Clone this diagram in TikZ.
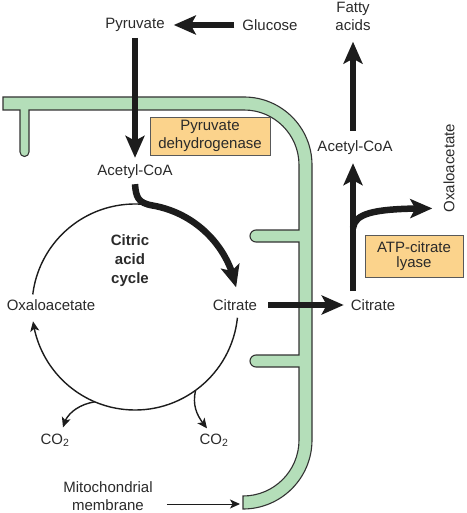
\documentclass[tikz,border=0pt]{standalone}
\usepackage{fontspec}
\setmainfont{Liberation Sans}
\usepackage{xcolor}
\usetikzlibrary{arrows.meta,bending,calc}

\definecolor{membrane}{HTML}{B4DEB9}
\definecolor{enzyme}{HTML}{FBD38C}
\definecolor{ink}{HTML}{1C1C1C}
\definecolor{labelgray}{HTML}{2A2A2A}

\begin{document}
\begin{tikzpicture}[x=1pt, y=-1pt,
    every node/.style={font=\fontsize{15}{17.5}\selectfont, text=labelgray, inner sep=0pt},
    ring/.style={draw=ink, line width=1.4pt},
    slim/.style={ring, -{Stealth[length=10pt, width=9pt, inset=2.5pt]}},
    fat/.style={draw=ink, line width=6.5pt, -{Stealth[length=22pt, width=19pt, inset=5pt]}},
    enzymebox/.style={draw=black!65, line width=0.7pt, fill=enzyme, align=center}]
    \useasboundingbox (0,0) rectangle (466,513);

    % membrane
    \draw[draw=black!80, line width=1.1pt, fill=membrane]
        (3,97) -- (244,97) arc[start angle=-90, end angle=0, radius=68]
        -- (312,440) arc[start angle=0, end angle=90, radius=69]
        -- (243,496) arc[start angle=90, end angle=0, radius=56]
        -- (299,367) -- (256,367) arc[start angle=90, end angle=270, radius=6]
        -- (299,355) -- (299,242) -- (256,242) arc[start angle=90, end angle=270, radius=6]
        -- (299,230) -- (299,165) arc[start angle=0, end angle=-90, radius=55]
        -- (29,110) -- (29,152) arc[start angle=0, end angle=180, radius=4.5]
        -- (20,110) -- (3,110) -- cycle;

    % labels
    \node (pyr) at (135,25) {Pyruvate};
    \node (glc) at (270,25) {Glucose};
    \node[align=center] (fa) at (353,16.5) {Fatty\\acids};
    \node (acoaIn) at (135,172) {Acetyl-CoA};
    \node (acoaOut) at (355,148) {Acetyl-CoA};
    \node[rotate=90] (oaaOut) at (449,168) {Oxaloacetate};
    \node (cit) at (235,305) {Citrate};
    \node (citOut) at (373,305) {Citrate};
    \node (oaa) at (51,305) {Oxaloacetate};
    \node[font=\fontsize{15}{19}\selectfont\bfseries, align=center] (cyclbl) at (130,261) {Citric\\acid\\cycle};
    \node (co2a) at (55,440) {CO\textsubscript{2}};
    \node (co2b) at (214,440) {CO\textsubscript{2}};
    \node[align=center] (mito) at (108,496) {Mitochondrial\\membrane};
    \node[enzymebox, minimum width=120pt, minimum height=38pt] (pdh) at (210,136) {Pyruvate\\dehydrogenase};
    \node[enzymebox, minimum width=98pt, minimum height=42pt, font=\fontsize{15}{15.5}\selectfont] (acl) at (414,256) {ATP-citrate\\lyase};

    \coordinate (cyc) at (135,307);
    \coordinate (stem) at (353,291);
    \coordinate (fork) at (353,228);
    \coordinate (mtip) at (240,504);

    % citric acid cycle
    \draw[ring] ($(cyc)+(-173:103)$) arc[start angle=-173, end angle=-80, radius=103];
    \draw[slim] ($(cyc)+(6:103)$) arc[start angle=6, end angle=172, radius=103];
    \draw[fat] ($(acoaIn.south)+(0,5)$) .. controls +(1,13) and +(-15,-2.5) .. ($(cyc)+(-80:103)$)
        arc[start angle=-80, end angle=-11, radius=103];
    \draw[slim] ($(cyc)+(113:103)$) .. controls +(-18,3) and +(2,-12) .. ($(co2a.north)+(8,-6)$);
    \draw[slim] ($(cyc)+(54:103)$) .. controls +(-4,18) and +(-8,-10) .. ($(co2b.north)+(-7,-5)$);

    % transport and cytosol
    \draw[fat, shorten <=8pt, shorten >=9pt] (glc.west) -- (pyr.east);
    \draw[fat, shorten <=6pt, shorten >=7pt] (pyr.south) -- (acoaIn.north);
    \draw[fat, shorten <=11pt, shorten >=7pt] (cit.east) -- (citOut.west);
    \draw[fat, shorten >=8pt] (stem) -- (stem |- acoaOut.south);
    \draw[fat, shorten <=10pt, shorten >=11pt] (acoaOut.north -| stem) -- (fa.south -| stem);
    \draw[fat] (fork) .. controls +(2,-16) and +(-54,0) .. ($(oaaOut.north west)+(-11,-4)$);
    \draw[slim, line width=1pt] ([xshift=14pt, yshift=-8pt]mito.east) -- (mtip);
\end{tikzpicture}
\end{document}
